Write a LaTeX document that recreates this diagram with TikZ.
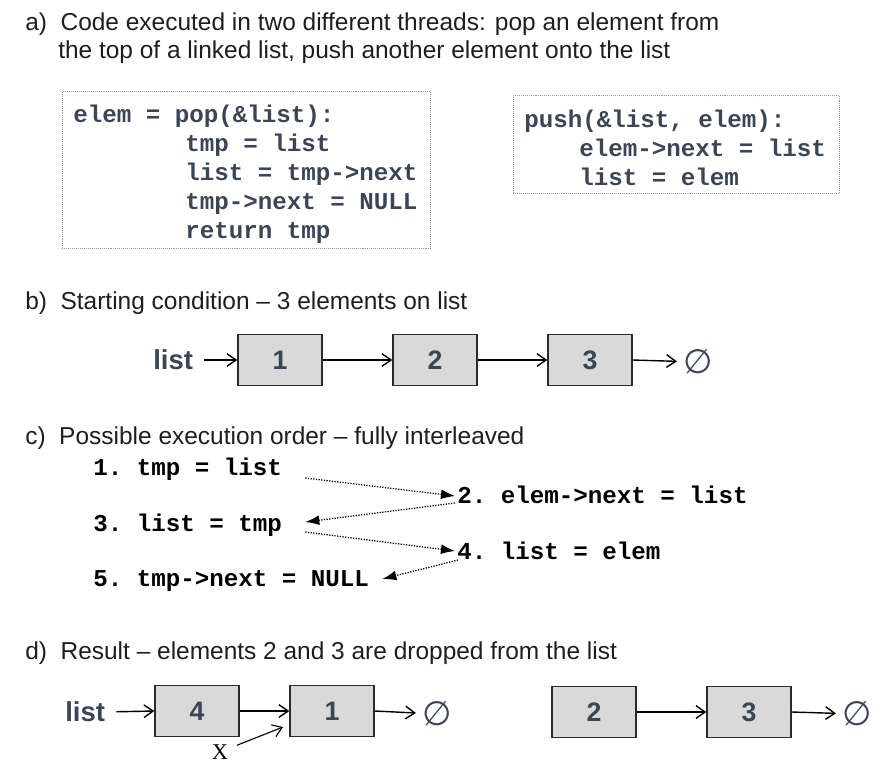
\documentclass[tikz,border=0pt]{standalone}
\usepackage{fontspec}
\setmainfont{Liberation Sans}
\setmonofont{Liberation Mono}
\newfontfamily\symbfont{DejaVu Sans}
\newfontfamily\serifx{Liberation Serif}
\usetikzlibrary{arrows.meta,positioning,calc}

\definecolor{headclr}{HTML}{1E1E1E}
\definecolor{codeclr}{HTML}{3A4556}
\definecolor{cellfill}{HTML}{D9D9D9}
\definecolor{cellline}{HTML}{2A2A2A}

\begin{document}
\begin{tikzpicture}[x=0.025cm,y=-0.025cm,
  hdr/.style={anchor=base west,inner sep=0pt,text=headclr,font=\fontsize{17.4}{22}\selectfont},
  code/.style={anchor=north west,inner sep=0pt,align=left,text=codeclr,font=\ttfamily\bfseries\fontsize{17.2}{20.6}\selectfont},
  codebox/.style={draw=gray!80,densely dotted,anchor=north west,inner sep=0pt},
  cell/.style={draw=cellline,line width=1pt,fill=cellfill,inner sep=0pt,minimum width=2.1cm,minimum height=1.275cm,text=codeclr,font=\bfseries\fontsize{19}{19}\selectfont},
  ptr/.style={inner sep=0pt,text=codeclr,font=\bfseries\fontsize{19.5}{19.5}\selectfont},
  nul/.style={inner sep=0pt,text=codeclr,font=\symbfont\fontsize{24}{24}\selectfont},
  link/.style={line width=1pt,-{Straight Barb[length=6.5pt,width=9pt]}},
  stepline/.style={anchor=base west,inner sep=0pt,font=\ttfamily\bfseries\fontsize{17.2}{20.6}\selectfont},
  flow/.style={densely dotted,line width=0.9pt,-{Latex[length=10pt,width=7pt]}}
]
\useasboundingbox (0,0) rectangle (880,770);

% a) the two routines
\node[hdr] (ha1) at (25,30) {a)\ \ Code executed in two different threads: pop an element from};
\node[hdr] (ha2) at (58,58) {the top of a linked list, push another element onto the list};
\node[codebox,minimum width=9.2cm,minimum height=3.925cm] (popbox) at (62,91) {};
\node[code] (popcode) at (73,105) {elem = pop(\&list):\\
\hspace*{2.8cm}tmp = list\\
\hspace*{2.8cm}list = tmp->next\\
\hspace*{2.8cm}tmp->next = NULL\\
\hspace*{2.8cm}return tmp};
\node[codebox,minimum width=8.15cm,minimum height=2.45cm] (pushbox) at (513,95) {};
\node[code] (pushcode) at (524,110) {push(\&list, elem):\\
\hspace*{1.375cm}elem->next = list\\
\hspace*{1.375cm}list = elem};

% b) starting list
\node[hdr] (hb) at (25,309) {b)\ \ Starting condition -- 3 elements on list};
\node[ptr,anchor=west] (blist) at (153,360) {list};
\node[cell] (b1) at (280,360) {1};
\node[cell] (b2) at (435,360) {2};
\node[cell] (b3) at (590,360) {3};
\node[nul] (bnul) at (698,362) {∅};
\draw[link,shorten <=8pt] (blist.east) -- (b1.west);
\draw[link] (b1) -- (b2);
\draw[link] (b2) -- (b3);
\draw[link,shorten >=15pt] (b3.east) -- (bnul.center);

% c) interleaving
\node[hdr] (hc) at (25,444) {c)\ \ Possible execution order -- fully interleaved};
\node[stepline] (s1) at (93,475) {1. tmp = list};
\node[stepline] (s2) at (457,503) {2. elem->next = list};
\node[stepline] (s3) at (93,531) {3. list = tmp};
\node[stepline] (s4) at (457,559) {4. list = elem};
\node[stepline] (s5) at (93,586) {5. tmp->next = NULL};
\draw[flow] ([shift={(23,3)}]s1.base east) -- ([shift={(-2,-7)}]s2.base west);
\draw[flow] ([shift={(-2,0)}]s2.base west) -- ([shift={(23,-9)}]s3.base east);
\draw[flow] ([shift={(23,1)}]s3.base east) -- ([shift={(-2,-8)}]s4.base west);
\draw[flow] ([shift={(1,1)}]s4.base west) -- ([shift={(13,-7)}]s5.base east);

% d) result
\node[hdr] (hd) at (25,659) {d)\ \ Result -- elements 2 and 3 are dropped from the list};
\node[ptr,anchor=west] (dlist) at (65,712) {list};
\node[cell] (d4) at (197,711) {4};
\node[cell] (d1) at (332,711) {1};
\node[nul] (dnul) at (437,714) {∅};
\node[inner sep=0pt,font=\serifx\fontsize{16}{16}\selectfont] (lost) at (220,752) {X};
\coordinate (lostend) at (283,727);
\draw[link,shorten <=8pt] (dlist.east) -- (d4.west);
\draw[link] (d4) -- (d1);
\draw[link,shorten >=15pt] (d1.east) -- (dnul.center);
\draw[link,line width=0.8pt,shorten <=13pt] (lost.center) -- (lostend);
\node[cell] (d2) at (594,712) {2};
\node[cell] (d3) at (749,712) {3};
\node[nul] (dnul2) at (857,714) {∅};
\draw[link] (d2) -- (d3);
\draw[link,shorten >=15pt] (d3.east) -- (dnul2.center);
\end{tikzpicture}
\end{document}
